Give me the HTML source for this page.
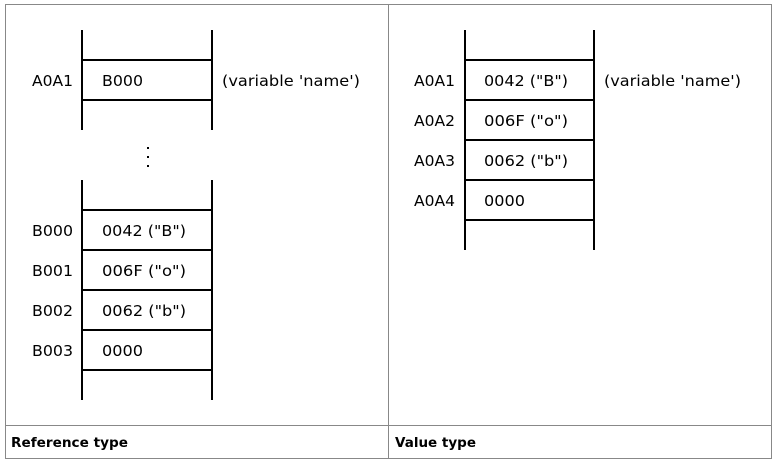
<!DOCTYPE html>
<html><head><style>
html,body{margin:0;padding:0;background:#fff;width:777px;height:464px;overflow:hidden}
svg{display:block}
text{font-family:"DejaVu Sans","Liberation Sans",sans-serif;font-size:15px;fill:#000}
.b{font-weight:bold;font-size:13px}
</style></head><body>
<svg width="777" height="464" viewBox="0 0 777 464" xmlns="http://www.w3.org/2000/svg">
<g fill="none" stroke="#888" stroke-width="1">
<rect x="5.5" y="4.5" width="766" height="454"/>
<line x1="388.5" y1="4" x2="388.5" y2="459"/>
<line x1="5" y1="425.5" x2="772" y2="425.5"/>
</g>
<g stroke="#000" stroke-width="2">
<line x1="82" y1="30" x2="82" y2="130"/><line x1="212" y1="30" x2="212" y2="130"/>
<line x1="82" y1="60" x2="212" y2="60"/><line x1="82" y1="100" x2="212" y2="100"/>
<line x1="82" y1="180" x2="82" y2="400"/><line x1="212" y1="180" x2="212" y2="400"/>
<line x1="82" y1="210" x2="212" y2="210"/><line x1="82" y1="250" x2="212" y2="250"/>
<line x1="82" y1="290" x2="212" y2="290"/><line x1="82" y1="330" x2="212" y2="330"/>
<line x1="82" y1="370" x2="212" y2="370"/>
<line x1="465" y1="30" x2="465" y2="250"/><line x1="594" y1="30" x2="594" y2="250"/>
<line x1="465" y1="60" x2="594" y2="60"/><line x1="465" y1="100" x2="594" y2="100"/>
<line x1="465" y1="140" x2="594" y2="140"/><line x1="465" y1="180" x2="594" y2="180"/>
<line x1="465" y1="220" x2="594" y2="220"/>
</g>
<g fill="#000"><rect x="147" y="147" width="2" height="2"/><rect x="147" y="156" width="2" height="2"/><rect x="147" y="165" width="2" height="2"/></g>
<text x="32" y="86" textLength="41" lengthAdjust="spacingAndGlyphs">A0A1</text>
<text x="102" y="86" textLength="41" lengthAdjust="spacingAndGlyphs">B000</text>
<text x="222" y="86" textLength="138" lengthAdjust="spacingAndGlyphs">(variable 'name')</text>
<text x="32" y="236" textLength="41" lengthAdjust="spacingAndGlyphs">B000</text>
<text x="102" y="236" textLength="84" lengthAdjust="spacingAndGlyphs">0042 ("B")</text>
<text x="32" y="276" textLength="41" lengthAdjust="spacingAndGlyphs">B001</text>
<text x="102" y="276" textLength="84" lengthAdjust="spacingAndGlyphs">006F ("o")</text>
<text x="32" y="316" textLength="41" lengthAdjust="spacingAndGlyphs">B002</text>
<text x="102" y="316" textLength="84" lengthAdjust="spacingAndGlyphs">0062 ("b")</text>
<text x="32" y="356" textLength="41" lengthAdjust="spacingAndGlyphs">B003</text>
<text x="102" y="356" textLength="41" lengthAdjust="spacingAndGlyphs">0000</text>
<text x="414" y="86" textLength="41" lengthAdjust="spacingAndGlyphs">A0A1</text>
<text x="484" y="86" textLength="84" lengthAdjust="spacingAndGlyphs">0042 ("B")</text>
<text x="604" y="86" textLength="137" lengthAdjust="spacingAndGlyphs">(variable 'name')</text>
<text x="414" y="126" textLength="41" lengthAdjust="spacingAndGlyphs">A0A2</text>
<text x="484" y="126" textLength="84" lengthAdjust="spacingAndGlyphs">006F ("o")</text>
<text x="414" y="166" textLength="41" lengthAdjust="spacingAndGlyphs">A0A3</text>
<text x="484" y="166" textLength="84" lengthAdjust="spacingAndGlyphs">0062 ("b")</text>
<text x="414" y="206" textLength="41" lengthAdjust="spacingAndGlyphs">A0A4</text>
<text x="484" y="206" textLength="41" lengthAdjust="spacingAndGlyphs">0000</text>
<text class="b" x="11" y="447" textLength="117" lengthAdjust="spacingAndGlyphs">Reference type</text>
<text class="b" x="395" y="447" textLength="81" lengthAdjust="spacingAndGlyphs">Value type</text>
</svg>
</body></html>
